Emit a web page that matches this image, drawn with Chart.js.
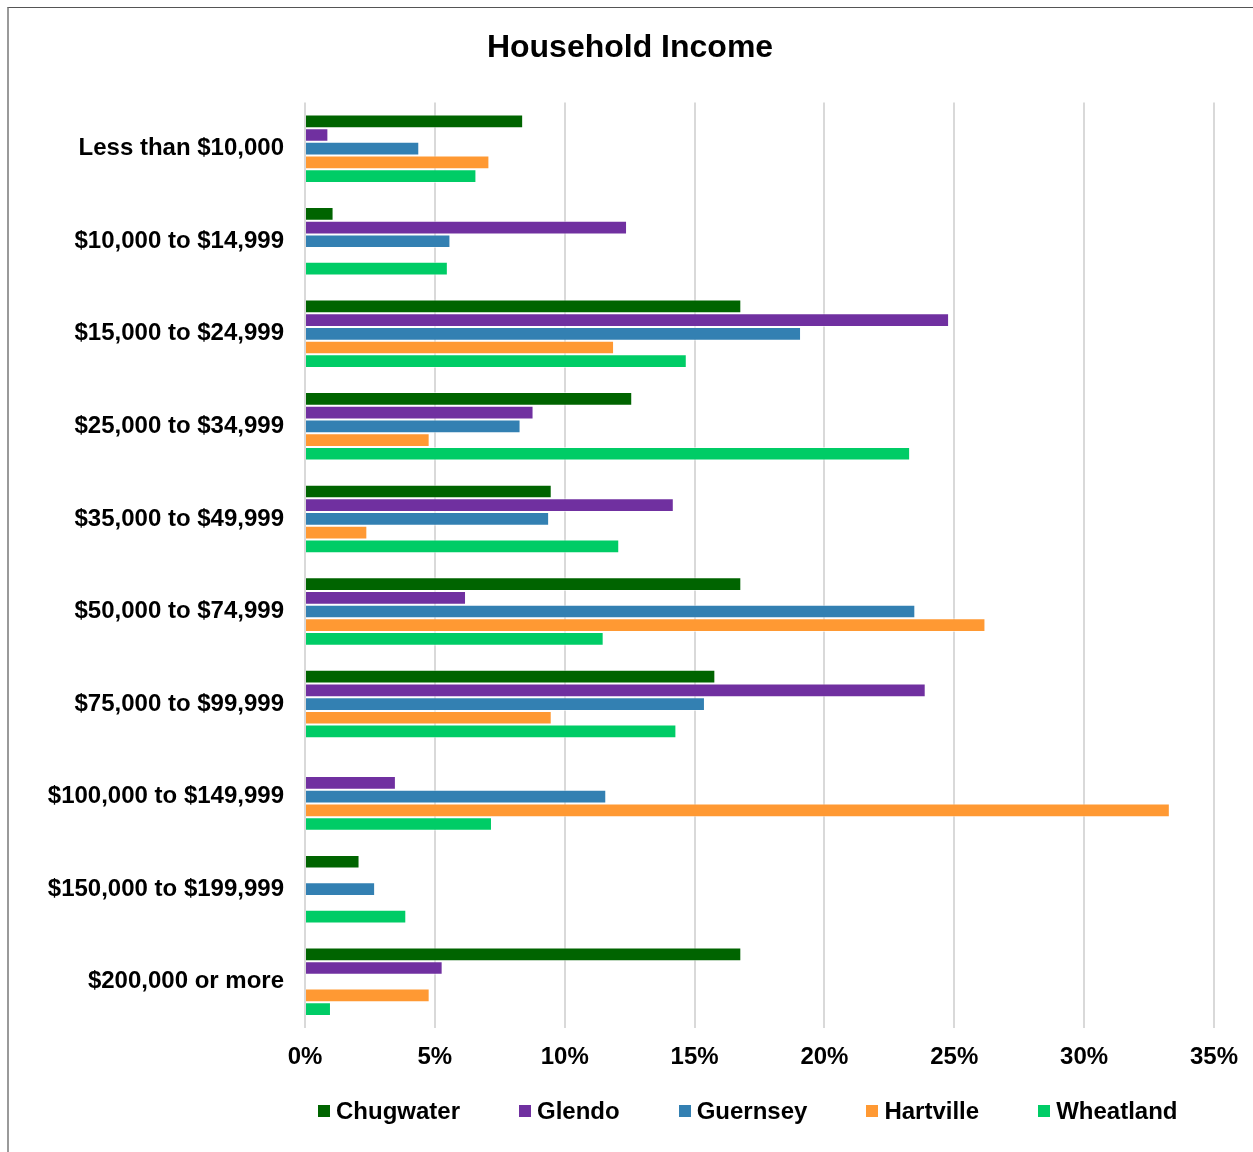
<!DOCTYPE html>
<html>
<head>
<meta charset="utf-8">
<title>Household Income</title>
<script src="https://cdn.jsdelivr.net/npm/chart.js@4/dist/chart.umd.min.js"></script>
<style>
    body { margin: 0; background: #fff; overflow: hidden; font-family: "Liberation Sans", Arial, sans-serif; }
    #frame { position: absolute; left: 7px; top: 7px; width: 1400px; height: 1300px; border-left: 2px solid #9a9a9a; border-top: 1px solid #555; }
    #wrap { position: absolute; left: 0; top: 0; width: 1253px; height: 1152px; }
    #legend { position: absolute; left: 318px; top: 1097px; display: flex; align-items: center; font-weight: bold; font-size: 24px; line-height: 28px; color: #000; }
    #legend .item { display: flex; align-items: center; margin-right: 59px; }
    #legend .box { width: 12px; height: 12px; margin-right: 6px; }
</style>
</head>
<body>
<div id="frame"></div>
<div id="wrap"><canvas id="incomeChart" width="1253" height="1152"></canvas></div>
<div id="legend"></div>
<script>
// categorie e valori (%)
const categories = [
    "Less than $10,000",
    "$10,000 to $14,999",
    "$15,000 to $24,999",
    "$25,000 to $34,999",
    "$35,000 to $49,999",
    "$50,000 to $74,999",
    "$75,000 to $99,999",
    "$100,000 to $149,999",
    "$150,000 to $199,999",
    "$200,000 or more"
];
const chugwater = [8.4, 1.1, 16.8, 12.6, 9.5, 16.8, 15.8, null, 2.1, 16.8];
const glendo    = [0.9, 12.4, 24.8, 8.8, 14.2, 6.2, 23.9, 3.5, null, 5.3];
const guernsey  = [4.4, 5.6, 19.1, 8.3, 9.4, 23.5, 15.4, 11.6, 2.7, null];
const hartville = [7.1, null, 11.9, 4.8, 2.4, 26.2, 9.5, 33.3, null, 4.8];
const wheatland = [6.6, 5.5, 14.7, 23.3, 12.1, 11.5, 14.3, 7.2, 3.9, 1.0];
const xTicks = [0, 5, 10, 15, 20, 25, 30, 35];

const seriesNames = ["Chugwater", "Glendo", "Guernsey", "Hartville", "Wheatland"];
const seriesData = [chugwater, glendo, guernsey, hartville, wheatland];
const seriesColors = ["#006400", "#7030A0", "#3380B2", "#FF9933", "#00CC66"];

const fontFamily = "'Liberation Sans', Arial, sans-serif";

const context = document.getElementById("incomeChart").getContext("2d");
const chart = new Chart(context, {
    type: "bar",
    data: {
        labels: categories,
        datasets: seriesNames.map((name, i) => ({
            label: name,
            data: seriesData[i],
            backgroundColor: seriesColors[i],
            borderColor: "rgba(255,255,255,0.55)",
            borderWidth: 1,
            categoryPercentage: 0.74,
            barPercentage: 1.0
        }))
    },
    options: {
        indexAxis: "y",
        responsive: false,
        animation: false,
        layout: { padding: { left: 45, right: 38, top: 0, bottom: 0 } },
        plugins: {
            legend: { display: false },
            tooltip: { enabled: false },
            title: {
                display: true,
                text: "Household Income",
                color: "#000",
                font: { family: fontFamily, size: 32, weight: "bold" },
                padding: { top: 29, bottom: 35 }
            }
        },
        scales: {
            x: {
                min: 0,
                max: 35,
                afterBuildTicks: scale => { scale.ticks = xTicks.map(v => ({ value: v })); },
                afterFit: scale => { scale.height = 124; },
                ticks: {
                    color: "#000",
                    padding: 15,
                    maxRotation: 0,
                    font: { family: fontFamily, size: 24, weight: "bold" },
                    callback: value => value + "%"
                },
                grid: { color: "#D9D9D9", lineWidth: 2, drawTicks: false },
                border: { display: false }
            },
            y: {
                afterFit: scale => { scale.width = 260; },
                ticks: {
                    color: "#000",
                    padding: 21,
                    font: { family: fontFamily, size: 24, weight: "bold" }
                },
                grid: { display: false, drawTicks: false },
                border: { display: false }
            }
        }
    }
});

// legenda in HTML
const legend = document.getElementById("legend");
seriesNames.forEach((name, i) => {
    const item = document.createElement("div");
    item.className = "item";
    const box = document.createElement("span");
    box.className = "box";
    box.style.background = seriesColors[i];
    const label = document.createElement("span");
    label.textContent = name;
    item.appendChild(box);
    item.appendChild(label);
    legend.appendChild(item);
});
</script>
</body>
</html>
